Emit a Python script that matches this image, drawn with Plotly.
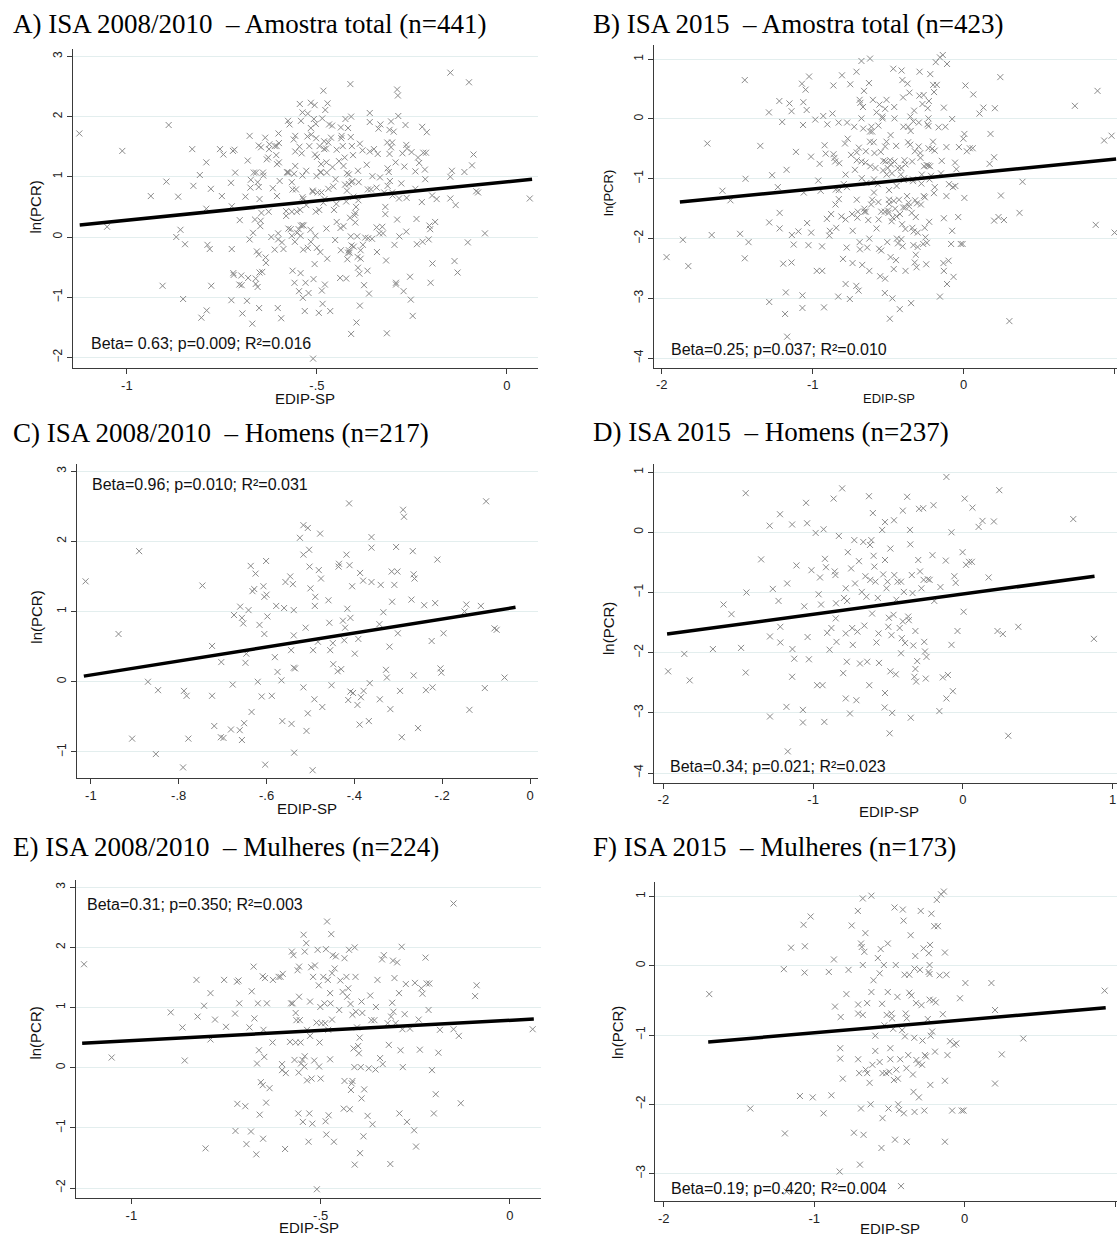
import plotly.graph_objects as go

W, H = 1117, 1236

# ---------------- data ----------------
# Panel C: ISA 2008/2010 - Homens (EDIP-SP, ln(PCR))
c_points = [
    (-1.012, 1.43), (-0.89, 1.86), (-0.937, 0.68), (-0.87, 0.0), (-0.847, -0.12), (-0.906, -0.81),
    (-0.852, -1.03), (-0.79, -1.22), (-0.788, -0.13), (-0.782, -0.2), (-0.778, -0.81), (-0.746, 1.37),
    (-0.724, 0.51), (-0.724, -0.2), (-0.719, -0.63), (-0.703, 0.28), (-0.704, -0.79), (-0.698, -0.8),
    (-0.681, -0.68), (-0.677, -0.04), (-0.674, 0.95), (-0.66, 1.07), (-0.656, 0.91), (-0.653, 0.83),
    (-0.661, -0.69), (-0.651, -0.59), (-0.656, -0.83), (-0.646, 0.40), (-0.648, 0.27), (-0.641, 1.02),
    (-0.636, 1.65), (-0.632, 1.29), (-0.628, 1.32), (-0.625, 1.54), (-0.634, -0.43), (-0.62, 0.0),
    (-0.616, 0.81), (-0.607, 1.36), (-0.605, 1.21), (-0.6, 1.24), (-0.601, 1.72), (-0.605, 0.68),
    (-0.611, -0.21), (-0.603, -1.18), (-0.598, 0.93), (-0.588, -0.2), (-0.581, 0.35), (-0.578, 1.08),
    (-0.575, 0.14), (-0.566, 0.02), (-0.564, -0.56), (-0.56, 1.05), (-0.557, 1.42), (-0.546, 1.5),
    (-0.544, 0.45), (-0.543, -0.6), (-0.54, 1.39), (-0.538, 1.02), (-0.538, 0.66), (-0.538, 0.2),
    (-0.535, 0.19), (-0.537, -1.01), (-0.524, 2.05), (-0.516, 2.23), (-0.516, 1.81), (-0.516, -0.08),
    (-0.511, 0.77), (-0.506, 2.19), (-0.503, 1.88), (-0.502, 1.64), (-0.506, -0.45), (-0.509, -0.7),
    (-0.5, 1.33), (-0.494, 0.45), (-0.491, -0.25), (-0.489, 1.21), (-0.49, 1.08), (-0.495, -1.26),
    (-0.483, 0.57), (-0.481, 1.59), (-0.478, 2.11), (-0.476, 1.47), (-0.473, -0.36), (-0.459, 1.16),
    (-0.457, 0.84), (-0.455, 0.45), (-0.452, -0.05), (-0.449, 0.55), (-0.448, 0.25), (-0.438, 0.15),
    (-0.436, 1.64), (-0.435, 1.68), (-0.43, 0.18), (-0.426, 0.87), (-0.423, 0.59), (-0.421, 0.77),
    (-0.418, 1.81), (-0.416, 1.04), (-0.414, -0.26), (-0.412, 2.54), (-0.409, -0.14), (-0.411, 1.66),
    (-0.409, 0.91), (-0.405, 1.36), (-0.403, -0.16), (-0.399, 0.40), (-0.393, -0.33), (-0.391, 0.61),
    (-0.388, -0.61), (-0.387, 1.55), (-0.385, -0.22), (-0.38, 1.44), (-0.379, -0.13), (-0.367, -0.56),
    (-0.365, -0.02), (-0.361, 2.06), (-0.361, 1.91), (-0.361, 1.42), (-0.343, 0.82), (-0.342, -0.25),
    (-0.34, 1.38), (-0.334, 0.99), (-0.328, 0.17), (-0.326, 0.06), (-0.32, 0.5), (-0.318, -0.39),
    (-0.315, 1.57), (-0.314, 1.14), (-0.309, 1.38), (-0.305, 1.92), (-0.302, 1.57), (-0.301, 0.69),
    (-0.296, -0.13), (-0.292, -0.79), (-0.289, 2.45), (-0.287, 2.35), (-0.27, 1.17), (-0.267, 1.86),
    (-0.265, 1.53), (-0.263, 1.47), (-0.265, 0.09), (-0.255, -0.66), (-0.241, 1.09), (-0.237, -0.12),
    (-0.224, 0.58), (-0.222, -0.08), (-0.216, 1.12), (-0.211, 1.74), (-0.204, 0.19), (-0.202, 0.13),
    (-0.197, 0.69), (-0.145, 1.1), (-0.138, -0.4), (-0.112, 1.08), (-0.103, -0.09), (-0.1, 2.57),
    (-0.081, 0.76), (-0.076, 0.74), (-0.058, 0.06), (-0.149, 1.0),
]

# Panel D: ISA 2015 - Homens
d_points = [
    (-1.968, -2.31), (-1.86, -2.02), (-1.824, -2.46), (-1.669, -1.94), (-1.598, -1.2), (-1.545, -1.36),
    (-1.481, -1.92), (-1.45, 0.65), (-1.445, -1.0), (-1.45, -2.33), (-1.347, -0.45), (-1.29, 0.11),
    (-1.288, -1.73), (-1.288, -3.06), (-1.269, -0.94), (-1.231, -1.14), (-1.221, 0.3), (-1.219, -1.57),
    (-1.219, -1.83), (-1.173, -0.85), (-1.178, -2.9), (-1.169, -3.64), (-1.14, 0.13), (-1.138, -1.94),
    (-1.14, -2.4), (-1.126, -2.1), (-1.111, -0.55), (-1.068, -2.95), (-1.068, -3.16), (-1.059, -1.23),
    (-1.047, 0.49), (-1.04, 0.15), (-1.037, -1.74), (-1.028, -2.11), (-1.011, -0.63), (-0.983, -0.01),
    (-0.973, -2.54), (-0.937, -2.54), (-0.963, -1.03), (-0.954, -0.75), (-0.947, -1.2), (-0.93, 0.05),
    (-0.925, -3.15), (-0.921, -0.44), (-0.914, -0.58), (-0.906, -1.67), (-0.89, -1.95), (-0.878, -1.59),
    (-0.863, 0.56), (-0.856, -0.65), (-0.851, -0.71), (-0.849, -1.43), (-0.847, -1.18), (-0.844, -1.82),
    (-0.828, -0.06), (-0.806, 0.73), (-0.794, -1.09), (-0.799, -2.34), (-0.782, -0.93), (-0.773, -1.14),
    (-0.782, -1.68), (-0.775, -2.15), (-0.782, -2.76), (-0.768, -0.33), (-0.754, -3.01), (-0.746, -0.6),
    (-0.739, -1.59), (-0.735, -1.87), (-0.725, -0.13), (-0.72, -0.85), (-0.711, -2.79), (-0.704, -1.65),
    (-0.694, -0.48), (-0.687, -2.18), (-0.675, -0.99), (-0.665, -0.16), (-0.658, -1.55), (-0.651, -0.73),
    (-0.644, -1.07), (-0.639, -2.15), (-0.627, 0.6), (-0.625, -2.54), (-0.62, -0.21), (-0.618, -0.79),
    (-0.611, -0.13), (-0.606, -1.35), (-0.601, 0.32), (-0.596, -0.39), (-0.591, -0.57), (-0.584, -0.82),
    (-0.577, -1.83), (-0.568, -1.09), (-0.563, -1.68), (-0.56, -2.17), (-0.539, 0.04), (-0.532, -0.7),
    (-0.52, 0.17), (-0.52, -0.46), (-0.52, -2.67), (-0.522, -2.91), (-0.51, -0.93), (-0.503, -0.82),
    (-0.498, -1.57), (-0.494, -1.42), (-0.489, -3.34), (-0.484, -0.27), (-0.484, -2.31), (-0.477, -1.71),
    (-0.472, -3.0), (-0.463, -1.37), (-0.46, 0.2), (-0.458, -0.71), (-0.448, -2.36), (-0.444, -1.12),
    (-0.436, -0.82), (-0.422, -1.59), (-0.413, -0.82), (-0.413, -2.01), (-0.408, -1.76), (-0.401, 0.36),
    (-0.401, -1.48), (-0.394, -0.99), (-0.386, -1.84), (-0.372, 0.59), (-0.365, -1.4), (-0.361, -1.46),
    (-0.353, 0.04), (-0.351, -0.2), (-0.348, -3.08), (-0.341, -0.71), (-0.336, -1.01), (-0.331, -1.88),
    (-0.324, -2.4), (-0.317, -1.64), (-0.317, -2.27), (-0.312, -2.48), (-0.305, -2.14), (-0.298, -0.46),
    (-0.293, 0.39), (-0.286, -0.65), (-0.277, -0.93), (-0.265, 0.4), (-0.262, -0.79), (-0.258, -1.82),
    (-0.253, -1.98), (-0.248, -2.43), (-0.243, -2.07), (-0.234, -0.78), (-0.222, -0.79), (-0.203, -0.38),
    (-0.196, 0.45), (-0.191, -1.14), (-0.157, -2.97), (-0.15, -0.91), (-0.134, -2.41), (-0.114, -0.47),
    (-0.11, 0.92), (-0.11, -2.76), (-0.1, -2.37), (-0.076, 0.0), (-0.076, -1.87), (-0.067, -2.64),
    (-0.057, -0.73), (-0.048, -0.84), (-0.036, -1.64), (-0.002, -0.33), (0.005, -1.32), (0.012, 0.56),
    (0.021, -0.54), (0.041, -0.49), (0.06, -0.49), (0.064, 0.41), (0.105, 0.09), (0.131, 0.19),
    (0.172, -0.75), (0.207, 0.18), (0.231, -1.64), (0.243, 0.7), (0.267, -1.69), (0.303, -3.38),
    (0.37, -1.57), (0.737, 0.22), (0.875, -1.77),
]

# Panel E: ISA 2008/2010 - Mulheres
e_points = [
    (-1.125, 1.72), (-1.052, 0.17), (-0.896, 0.92), (-0.865, 0.67), (-0.859, 0.12), (-0.828, 1.46),
    (-0.825, 0.85), (-0.808, 1.03), (-0.804, -1.34), (-0.791, 1.24), (-0.791, 0.47), (-0.779, 0.8),
    (-0.755, 1.46), (-0.75, 0.68), (-0.726, 0.9), (-0.721, 1.43), (-0.717, 1.45), (-0.72, -0.6),
    (-0.715, 1.07), (-0.725, -1.05), (-0.699, -0.64), (-0.696, -1.27), (-0.688, 0.67), (-0.684, -1.06),
    (-0.682, 1.27), (-0.677, 1.68), (-0.675, 0.82), (-0.67, -1.44), (-0.668, 0.07), (-0.666, 1.07),
    (-0.663, 0.29), (-0.661, -0.78), (-0.658, -0.24), (-0.653, 1.52), (-0.653, -0.29), (-0.652, -1.18),
    (-0.651, 0.63), (-0.649, 0.18), (-0.647, 1.49), (-0.644, -0.58), (-0.642, 1.07), (-0.635, -0.34),
    (-0.627, 0.42), (-0.626, 1.46), (-0.611, 1.51), (-0.606, 1.51), (-0.602, 0.06), (-0.6, 1.56),
    (-0.602, -0.04), (-0.594, -1.35), (-0.592, -0.09), (-0.581, 0.43), (-0.578, 1.07), (-0.576, 1.93),
    (-0.574, 1.07), (-0.572, 1.87), (-0.569, 0.13), (-0.566, 0.42), (-0.566, 0.91), (-0.564, 0.79),
    (-0.561, 1.62), (-0.558, -0.08), (-0.559, -0.76), (-0.557, 1.68), (-0.557, 1.18), (-0.555, 0.79),
    (-0.553, 0.42), (-0.552, 0.07), (-0.547, -0.9), (-0.548, 0.13), (-0.545, 2.21), (-0.543, 0.02),
    (-0.542, 1.93), (-0.542, 0.19), (-0.538, 2.07), (-0.536, -0.21), (-0.536, 0.63), (-0.532, -1.23),
    (-0.53, -0.76), (-0.528, 0.53), (-0.528, 1.1), (-0.525, 1.67), (-0.524, -0.18), (-0.522, -0.93),
    (-0.52, 1.51), (-0.517, 0.12), (-0.515, 1.7), (-0.511, 0.75), (-0.508, 1.96), (-0.505, 1.37),
    (-0.504, 0.02), (-0.503, 0.42), (-0.501, 1.01), (-0.5, -0.18), (-0.498, 0.74), (-0.493, 1.51),
    (-0.49, 1.07), (-0.488, 0.74), (-0.487, -0.89), (-0.486, 1.97), (-0.485, -1.11), (-0.483, 2.43),
    (-0.481, 1.46), (-0.48, 0.63), (-0.479, -0.79), (-0.475, 1.24), (-0.475, 0.14), (-0.474, 1.07),
    (-0.472, 2.22), (-0.47, 1.57), (-0.47, 0.8), (-0.468, 1.87), (-0.465, -1.23), (-0.463, 1.65),
    (-0.46, 1.85), (-0.451, 0.96), (-0.448, 1.45), (-0.442, 1.26), (-0.439, -0.68), (-0.437, 1.82),
    (-0.437, -0.22), (-0.432, 1.51), (-0.43, 1.18), (-0.427, 1.32), (-0.425, 1.96), (-0.423, -0.69),
    (-0.421, 1.06), (-0.42, -0.37), (-0.418, -0.26), (-0.416, -0.22), (-0.416, 0.88), (-0.413, 0.32),
    (-0.411, 0.01), (-0.41, -1.61), (-0.41, 2.0), (-0.408, 1.51), (-0.407, 0.93), (-0.404, 0.67),
    (-0.401, 0.36), (-0.399, 0.24), (-0.397, 0.5), (-0.396, -1.42), (-0.394, 0.01), (-0.392, 1.1),
    (-0.392, -0.51), (-0.39, 0.91), (-0.387, -1.14), (-0.385, -0.36), (-0.376, -0.8), (-0.373, -0.01),
    (-0.369, 1.2), (-0.366, 0.79), (-0.363, -0.94), (-0.358, 0.79), (-0.355, -0.03), (-0.354, 1.01),
    (-0.35, 1.46), (-0.343, 0.16), (-0.338, 1.8), (-0.333, 1.87), (-0.336, 0.06), (-0.323, 0.74),
    (-0.32, 0.38), (-0.316, -1.6), (-0.314, 0.85), (-0.311, 1.08), (-0.309, 1.78), (-0.308, 0.93),
    (-0.305, 1.49), (-0.302, 0.74), (-0.298, 1.75), (-0.293, 1.24), (-0.292, -0.76), (-0.289, 0.29),
    (-0.286, 2.01), (-0.284, 0.64), (-0.283, 0.01), (-0.278, 0.89), (-0.275, 1.39), (-0.272, -0.9),
    (-0.264, 0.65), (-0.253, -1.04), (-0.251, 1.41), (-0.248, -1.31), (-0.241, 0.8), (-0.238, 0.3),
    (-0.234, 1.32), (-0.231, 1.23), (-0.223, 1.83), (-0.22, 1.4), (-0.215, 0.96), (-0.213, 1.4),
    (-0.206, -0.04), (-0.201, -0.76), (-0.196, -0.44), (-0.189, 0.25), (-0.185, 0.63), (-0.149, 2.73),
    (-0.135, 0.53), (-0.13, -0.59), (-0.149, 0.64), (-0.092, 1.19), (-0.088, 1.37), (0.06, 0.64),
    (-0.51, -2.02),
]

# Panel F: ISA 2015 - Mulheres
f_points = [
    (-1.698, -0.41), (-1.425, -2.06), (-1.202, -0.05), (-1.195, -2.42), (-1.154, 0.26), (-1.071, 0.59),
    (-1.062, 0.28), (-1.064, -0.1), (-1.095, -1.88), (-1.024, 0.71), (-1.01, -1.9), (-0.938, -2.13),
    (-0.903, -0.09), (-0.886, -1.87), (-0.869, 0.09), (-0.862, -0.59), (-0.827, -1.19), (-0.824, -0.74),
    (-0.827, -1.34), (-0.831, -2.97), (-0.81, -1.63), (-0.786, -0.41), (-0.772, -0.06), (-0.751, 0.58),
    (-0.736, -2.41), (-0.71, 0.79), (-0.708, -0.56), (-0.708, -0.69), (-0.708, -1.35), (-0.701, -1.55),
    (-0.696, -2.87), (-0.689, -2.06), (-0.689, 0.32), (-0.684, 0.27), (-0.677, 0.97), (-0.677, 0.01),
    (-0.677, -0.71), (-0.672, -2.44), (-0.667, 0.2), (-0.66, 0.47), (-0.658, -1.5), (-0.648, -0.54),
    (-0.648, -1.55), (-0.632, -1.69), (-0.625, -2.0), (-0.62, 1.01), (-0.62, -0.38), (-0.613, -1.43),
    (-0.606, -0.21), (-0.594, -1.01), (-0.594, -1.23), (-0.577, 0.11), (-0.565, -0.11), (-0.565, -1.39),
    (-0.558, 0.24), (-0.553, -2.63), (-0.549, -0.55), (-0.546, -2.2), (-0.546, -1.55), (-0.537, 0.01),
    (-0.534, -0.86), (-0.522, -1.55), (-0.518, -0.71), (-0.511, 0.32), (-0.511, -0.38), (-0.506, -2.06),
    (-0.501, -1.53), (-0.494, -1.35), (-0.494, -1.19), (-0.487, -0.69), (-0.482, -0.76), (-0.475, -0.91),
    (-0.47, -1.65), (-0.466, 0.84), (-0.463, -2.51), (-0.458, 0.01), (-0.454, -1.5), (-0.447, -0.45),
    (-0.444, -1.63), (-0.442, -2.0), (-0.435, -2.08), (-0.428, -1.35), (-0.423, -3.18), (-0.416, -0.93),
    (-0.411, 0.81), (-0.406, 0.65), (-0.404, -2.13), (-0.399, -0.13), (-0.397, -1.02), (-0.392, -0.69),
    (-0.387, -1.48), (-0.385, -0.76), (-0.385, -2.54), (-0.375, -1.29), (-0.368, -0.13), (-0.368, -0.39),
    (-0.359, 0.44), (-0.354, -0.43), (-0.344, -1.57), (-0.34, -1.82), (-0.335, -1.04), (-0.333, -0.04),
    (-0.333, -2.11), (-0.328, 0.14), (-0.323, -0.54), (-0.321, -1.36), (-0.309, -1.41), (-0.304, -1.9),
    (-0.297, -0.06), (-0.292, 0.79), (-0.287, -0.57), (-0.283, -1.43), (-0.28, -1.08), (-0.273, 0.25),
    (-0.268, -2.09), (-0.264, -1.29), (-0.257, -1.31), (-0.245, -0.77), (-0.24, -0.09), (-0.238, 0.18),
    (-0.233, 0.01), (-0.233, -0.12), (-0.233, -0.49), (-0.23, 0.3), (-0.228, -1.72), (-0.226, -1.01),
    (-0.221, 0.75), (-0.216, -0.95), (-0.209, -0.5), (-0.202, 0.57), (-0.197, -1.24), (-0.192, -0.53),
    (-0.185, 0.95), (-0.178, 0.57), (-0.166, -0.14), (-0.157, 1.03), (-0.145, -0.7), (-0.138, 1.07),
    (-0.131, 0.19), (-0.131, -1.66), (-0.131, -2.54), (-0.121, -0.13), (-0.114, -1.29), (-0.097, -1.09),
    (-0.083, -2.09), (-0.071, -1.14), (-0.055, -1.12), (-0.031, -0.47), (-0.019, -2.09), (-0.007, -2.09),
    (0.005, -0.25), (0.178, -0.25), (0.202, -0.64), (0.202, -1.7), (0.247, -1.28), (0.39, -1.05),
    (0.931, -0.36), (-1.183, -3.26),
]

# a few extra points visible only in the total-sample 2015 panel
b_extra_points = [(0.887, 0.47), (0.98, -0.28), (1.0, -1.9)]

# total samples = men + women
a_points = c_points + e_points
b_points = d_points + f_points + b_extra_points

# fitted regression lines (end points)
fit_a_x, fit_a_y = [-1.124, 0.066], [0.20, 0.96]
fit_b_x, fit_b_y = [-1.88, 1.01], [-1.39, -0.67]
fit_c_x, fit_c_y = [-1.016, -0.033], [0.08, 1.06]
fit_d_x, fit_d_y = [-1.975, 0.879], [-1.69, -0.73]
fit_e_x, fit_e_y = [-1.13, 0.063], [0.405, 0.81]
fit_f_x, fit_f_y = [-1.705, 0.938], [-1.10, -0.607]

panel_titles = [
    "A) ISA 2008/2010  \u2013 Amostra total (n=441)",
    "B) ISA 2015  \u2013 Amostra total (n=423)",
    "C) ISA 2008/2010  \u2013 Homens (n=217)",
    "D) ISA 2015  \u2013 Homens (n=237)",
    "E) ISA 2008/2010  \u2013 Mulheres (n=224)",
    "F) ISA 2015  \u2013 Mulheres (n=173)",
]
stat_texts = [
    "Beta= 0.63; p=0.009; R\u00b2=0.016",
    "Beta=0.25; p=0.037; R\u00b2=0.010",
    "Beta=0.96; p=0.010; R\u00b2=0.031",
    "Beta=0.34; p=0.021; R\u00b2=0.023",
    "Beta=0.31; p=0.350; R\u00b2=0.003",
    "Beta=0.19; p=0.420; R\u00b2=0.004",
]

xticks_a = [-1, -0.5, 0];  xticklabels_a = ["-1", "-.5", "0"]
xticks_b = [-2, -1, 0, 1]; xticklabels_b = ["-2", "-1", "0", "1"]
xticks_c = [-1, -0.8, -0.6, -0.4, -0.2, 0]; xticklabels_c = ["-1", "-.8", "-.6", "-.4", "-.2", "0"]
yticks_a = [-2, -1, 0, 1, 2, 3]
yticks_b = [-4, -3, -2, -1, 0, 1]
yticks_c = [-1, 0, 1, 2, 3]
yticks_f = [-3, -2, -1, 0, 1]

x_label = "EDIP-SP"
y_label = "ln(PCR)"

# ---------------- layout (pixel geometry) ----------------
panels = [
    dict(pts=a_points, fx=fit_a_x, fy=fit_a_y, box=(72.5, 538, 49, 368), xr=(-1.143, 0.0816), yr=(-2.176, 3.123),
         xt=xticks_a, xtl=xticklabels_a, yt=yticks_a, title_xy=(10.7, 24), stat_xy=(88.6, 343),
         ylab_xy=(34.6, 207), xlab_xy=(305, 399), lab_size=15),
    dict(pts=b_points, fx=fit_b_x, fy=fit_b_y, box=(653.6, 1117, 45, 367.7), xr=(-2.054, 1.016), yr=(-4.159, 1.237),
         xt=xticks_b, xtl=xticklabels_b, yt=yticks_b, title_xy=(591.4, 24), stat_xy=(669, 349),
         ylab_xy=(608, 193), xlab_xy=(888.6, 398), lab_size=13),
    dict(pts=c_points, fx=fit_c_x, fy=fit_c_y, box=(76.8, 537.5, 464.3, 778.3), xr=(-1.032, 0.017), yr=(-1.375, 3.097),
         xt=xticks_c, xtl=xticklabels_c, yt=yticks_c, title_xy=(11.4, 433), stat_xy=(90.4, 485),
         ylab_xy=(35.7, 617), xlab_xy=(307, 808), lab_size=15),
    dict(pts=d_points, fx=fit_d_x, fy=fit_d_y, box=(653.6, 1117, 464.3, 782.7), xr=(-2.065, 1.029), yr=(-4.16, 1.13),
         xt=xticks_b, xtl=xticklabels_b, yt=yticks_b, title_xy=(591.4, 432), stat_xy=(668, 766.7),
         ylab_xy=(608, 628), xlab_xy=(888.6, 811.7), lab_size=15),
    dict(pts=e_points, fx=fit_e_x, fy=fit_e_y, box=(75.7, 541, 880, 1198.3), xr=(-1.147, 0.082), yr=(-2.17, 3.12),
         xt=xticks_a, xtl=xticklabels_a, yt=yticks_a, title_xy=(10.7, 847), stat_xy=(85, 904),
         ylab_xy=(34.6, 1033), xlab_xy=(309, 1227.5), lab_size=15),
    dict(pts=f_points, fx=fit_f_x, fy=fit_f_y, box=(655.4, 1117, 881.7, 1201), xr=(-2.056, 1.013), yr=(-3.395, 1.212),
         xt=xticks_b, xtl=xticklabels_b, yt=yticks_f, title_xy=(591.4, 847), stat_xy=(669, 1188),
         ylab_xy=(617, 1033), xlab_xy=(890, 1228), lab_size=15),
]

SANS = "Liberation Sans, Arial, sans-serif"
SERIF = "Liberation Serif, Times New Roman, serif"
MARK = "#8a8a8a"
AXC = "#3a3a3a"


def px(x):
    return x / W


def py(y):
    return 1 - y / H


fig = go.Figure()
layout = dict(width=W, height=H, margin=dict(l=0, r=0, t=0, b=0), autosize=False,
              paper_bgcolor="white", plot_bgcolor="white", showlegend=False)
annotations = []

for i, p in enumerate(panels, start=1):
    sfx = "" if i == 1 else str(i)
    xs = [pt[0] for pt in p["pts"]]
    ys = [pt[1] for pt in p["pts"]]
    fig.add_trace(go.Scatter(
        x=xs, y=ys, mode="markers", xaxis="x" + sfx, yaxis="y" + sfx, hoverinfo="skip",
        marker=dict(symbol="x-thin", size=6, color=MARK, line=dict(width=1, color=MARK)),
    ))
    fig.add_trace(go.Scatter(
        x=p["fx"], y=p["fy"], mode="lines", xaxis="x" + sfx, yaxis="y" + sfx, hoverinfo="skip",
        line=dict(color="black", width=3.5),
    ))
    l, r, t, b = p["box"]
    layout["xaxis" + sfx] = dict(
        domain=[px(l), min(px(r), 1.0)], range=list(p["xr"]), anchor="y" + sfx,
        showline=True, linecolor=AXC, linewidth=1, ticks="outside", ticklen=5, tickcolor=AXC,
        tickvals=p["xt"], ticktext=p["xtl"], showgrid=False, zeroline=False,
        tickfont=dict(family=SANS, size=13, color="#222"),
    )
    layout["yaxis" + sfx] = dict(
        domain=[py(b), py(t)], range=list(p["yr"]), anchor="x" + sfx,
        showline=True, linecolor=AXC, linewidth=1, ticks="outside", ticklen=5, tickcolor=AXC,
        tickvals=p["yt"], tickangle=-90, showgrid=True, gridcolor="#e3eeee", gridwidth=1,
        zeroline=False, tickfont=dict(family=SANS, size=12, color="#222"),
    )
    tx, ty = p["title_xy"]
    annotations.append(dict(text=panel_titles[i - 1], x=px(tx), y=py(ty), xref="paper", yref="paper",
                            xanchor="left", yanchor="middle", showarrow=False,
                            font=dict(family=SERIF, size=27, color="black")))
    sx, sy = p["stat_xy"]
    annotations.append(dict(text=stat_texts[i - 1], x=px(sx), y=py(sy), xref="paper", yref="paper",
                            xanchor="left", yanchor="middle", showarrow=False,
                            font=dict(family=SANS, size=16, color="#111")))
    lx, ly = p["ylab_xy"]
    annotations.append(dict(text=y_label, x=px(lx), y=py(ly), xref="paper", yref="paper",
                            xanchor="center", yanchor="middle", showarrow=False, textangle=-90,
                            font=dict(family=SANS, size=p["lab_size"], color="#111")))
    ex, ey = p["xlab_xy"]
    annotations.append(dict(text=x_label, x=px(ex), y=py(ey), xref="paper", yref="paper",
                            xanchor="center", yanchor="middle", showarrow=False,
                            font=dict(family=SANS, size=p["lab_size"], color="#111")))

layout["annotations"] = annotations
fig.update_layout(**layout)
fig.write_html("out.html")
